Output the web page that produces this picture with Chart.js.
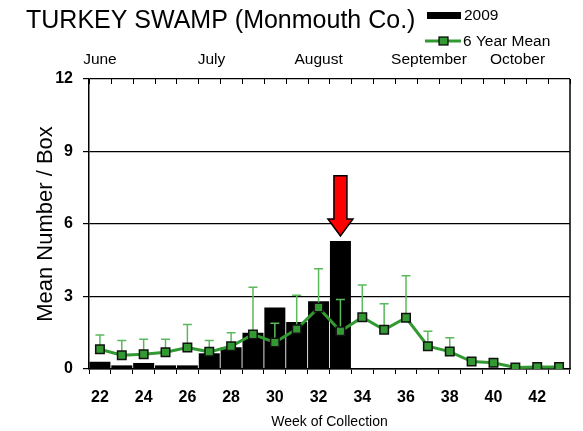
<!DOCTYPE html>
<html>
<head>
<meta charset="utf-8">
<script src="https://cdn.jsdelivr.net/npm/chart.js@4"></script>
<style>
  html, body { margin: 0; padding: 0; background: #fff; }
  #wrap { width: 583px; height: 431px; }
</style>
</head>
<body>
<div id="wrap"><canvas id="chart" width="583" height="431"></canvas></div>
<script>
const weeks = ['22','23','24','25','26','27','28','29','30','31','32','33','34','35','36','37','38','39','40','41','42','43'];
const bars2009 = [0.3, 0.15, 0.25, 0.15, 0.15, 0.65, 0.9, 1.5, 2.55, 1.95, 2.8, 5.3, 0, 0, 0, 0, 0, 0, 0, 0, 0, 0];
const meanValues = [0.82, 0.57, 0.61, 0.69, 0.89, 0.71, 0.94, 1.43, 1.1, 1.65, 2.54, 1.56, 2.14, 1.62, 2.12, 0.94, 0.72, 0.31, 0.26, 0.06, 0.08, 0.08];
const errorTops = [1.41, 1.18, 1.23, 1.23, 1.84, 1.18, 1.5, 3.38, 1.89, 3.05, 4.15, 2.88, 3.48, 2.7, 3.86, 1.56, 1.29, null, null, null, null, null];
const monthNames = ['June', 'July', 'August', 'September', 'October'];
const monthWeeks = [22, 27.1, 32, 37.05, 41.1];
const yTicks = [0, 3, 6, 9, 12];
const arrowWeek = '33';
const arrowTopValue = 8;

const FONT = "'Liberation Sans', Arial, sans-serif";

// pixel for a (possibly fractional) week number on the category axis
const weekToPixel = (x, w) => {
    const step = x.getPixelForValue(1) - x.getPixelForValue(0);
    return x.getPixelForValue(0) + (w - Number(weeks[0])) * step;
};

const extras = {
    id: 'extras',
    afterDatasetDraw(chart, args) {
        if (args.index !== 0) return;
        // error bars (upper only), drawn over the bars and under the mean line
        const { ctx, scales: { x, y } } = chart;
        ctx.save();
        ctx.strokeStyle = '#5cb85c';
        ctx.lineWidth = 1.5;
        errorTops.forEach((top, i) => {
            if (top == null) return;
            const px = x.getPixelForValue(i);
            const y0 = y.getPixelForValue(meanValues[i]);
            const y1 = y.getPixelForValue(top);
            ctx.beginPath();
            ctx.moveTo(px, y0);
            ctx.lineTo(px, y1);
            ctx.moveTo(px - 4.5, y1);
            ctx.lineTo(px + 4.5, y1);
            ctx.stroke();
        });
        ctx.restore();
    },
    afterDraw(chart) {
        const { ctx, chartArea: a, scales: { x, y } } = chart;
        ctx.save();

        // right border
        ctx.strokeStyle = '#000';
        ctx.lineWidth = 1.5;
        ctx.beginPath();
        ctx.moveTo(a.right, a.top);
        ctx.lineTo(a.right, a.bottom);
        ctx.stroke();

        // top inner ticks at week boundaries
        ctx.lineWidth = 1;
        for (let k = 0; k <= weeks.length; k++) {
            const px = Math.round(weekToPixel(x, Number(weeks[0]) - 0.5 + k)) + 0.5;
            ctx.beginPath();
            ctx.moveTo(px, a.top);
            ctx.lineTo(px, a.top + 5);
            ctx.stroke();
        }

        // month labels along the top
        ctx.fillStyle = '#000';
        ctx.textAlign = 'center';
        ctx.textBaseline = 'middle';
        ctx.font = `15.5px ${FONT}`;
        monthNames.forEach((m, i) => {
            ctx.fillText(m, weekToPixel(x, monthWeeks[i]), 60);
        });

        // red arrow over the 2009 peak
        const i = weeks.indexOf(arrowWeek);
        const cx = x.getPixelForValue(i);
        const tip = y.getPixelForValue(bars2009[i]) - 5;
        const top = y.getPixelForValue(arrowTopValue);
        const headH = 17, shaftW = 6.5, headW = 12.5;
        ctx.beginPath();
        ctx.moveTo(cx - shaftW, top);
        ctx.lineTo(cx + shaftW, top);
        ctx.lineTo(cx + shaftW, tip - headH);
        ctx.lineTo(cx + headW, tip - headH);
        ctx.lineTo(cx, tip);
        ctx.lineTo(cx - headW, tip - headH);
        ctx.lineTo(cx - shaftW, tip - headH);
        ctx.closePath();
        ctx.fillStyle = '#ff0000';
        ctx.fill();
        ctx.lineWidth = 1.5;
        ctx.strokeStyle = '#000';
        ctx.stroke();

        // title
        ctx.fillStyle = '#000';
        ctx.textAlign = 'left';
        ctx.font = `25px ${FONT}`;
        ctx.fillText('TURKEY SWAMP (Monmouth Co.)', 26, 21);

        // legend
        ctx.font = `15.5px ${FONT}`;
        ctx.fillRect(427, 12, 34, 7);
        ctx.fillText('2009', 464, 16);

        ctx.strokeStyle = '#339933';
        ctx.lineWidth = 3;
        ctx.beginPath();
        ctx.moveTo(425, 41);
        ctx.lineTo(461, 41);
        ctx.stroke();
        ctx.fillStyle = '#339933';
        ctx.fillRect(439, 37, 9, 8);
        ctx.lineWidth = 1.2;
        ctx.strokeStyle = '#000';
        ctx.strokeRect(439, 37, 9, 8);
        ctx.fillStyle = '#000';
        ctx.fillText('6 Year Mean', 463, 42);

        ctx.restore();
    }
};

new Chart(document.getElementById('chart'), {
    type: 'bar',
    data: {
        labels: weeks,
        datasets: [{
            label: '2009',
            data: bars2009,
            backgroundColor: '#000',
            barPercentage: 0.96,
            categoryPercentage: 1,
            order: 1
        }, {
            type: 'line',
            label: '6 Year Mean',
            data: meanValues,
            borderColor: '#339933',
            borderWidth: 3,
            backgroundColor: '#339933',
            pointStyle: 'rect',
            pointRadius: 6,
            pointBorderColor: '#111',
            pointBorderWidth: 1.5,
            order: 0
        }]
    },
    options: {
        responsive: false,
        animation: false,
        devicePixelRatio: 1,
        layout: { padding: { left: 0, right: 13, top: 79, bottom: 0 } },
        plugins: {
            legend: { display: false },
            title: { display: false },
            tooltip: { enabled: false }
        },
        scales: {
            x: {
                type: 'category',
                offset: true,
                grid: { offset: true, drawOnChartArea: false, tickLength: 5, color: '#000' },
                border: { color: '#000', width: 1.5 },
                ticks: {
                    autoSkip: false,
                    maxRotation: 0,
                    color: '#000',
                    padding: 14,
                    font: { family: FONT, size: 16, weight: 'bold' },
                    callback: (v, i) => (i % 2 === 0 ? weeks[i] : '')
                },
                title: {
                    display: true,
                    text: 'Week of Collection',
                    color: '#000',
                    font: { family: FONT, size: 14 },
                    padding: { top: 4, bottom: 0 }
                },
                afterFit: s => { s.height = 62; }
            },
            y: {
                min: 0,
                max: 12,
                afterBuildTicks: s => { s.ticks = yTicks.map(v => ({ value: v })); },
                grid: { color: '#000', lineWidth: 1.2, tickLength: 6 },
                border: { color: '#000', width: 1.5 },
                ticks: {
                    color: '#000',
                    padding: 10,
                    font: { family: FONT, size: 16, weight: 'bold' }
                },
                title: {
                    display: true,
                    text: 'Mean Number / Box',
                    color: '#000',
                    font: { family: FONT, size: 22 },
                    padding: { top: 33, bottom: 0 }
                },
                afterFit: s => { s.width = 89; }
            }
        }
    },
    plugins: [extras]
});
</script>
</body>
</html>
